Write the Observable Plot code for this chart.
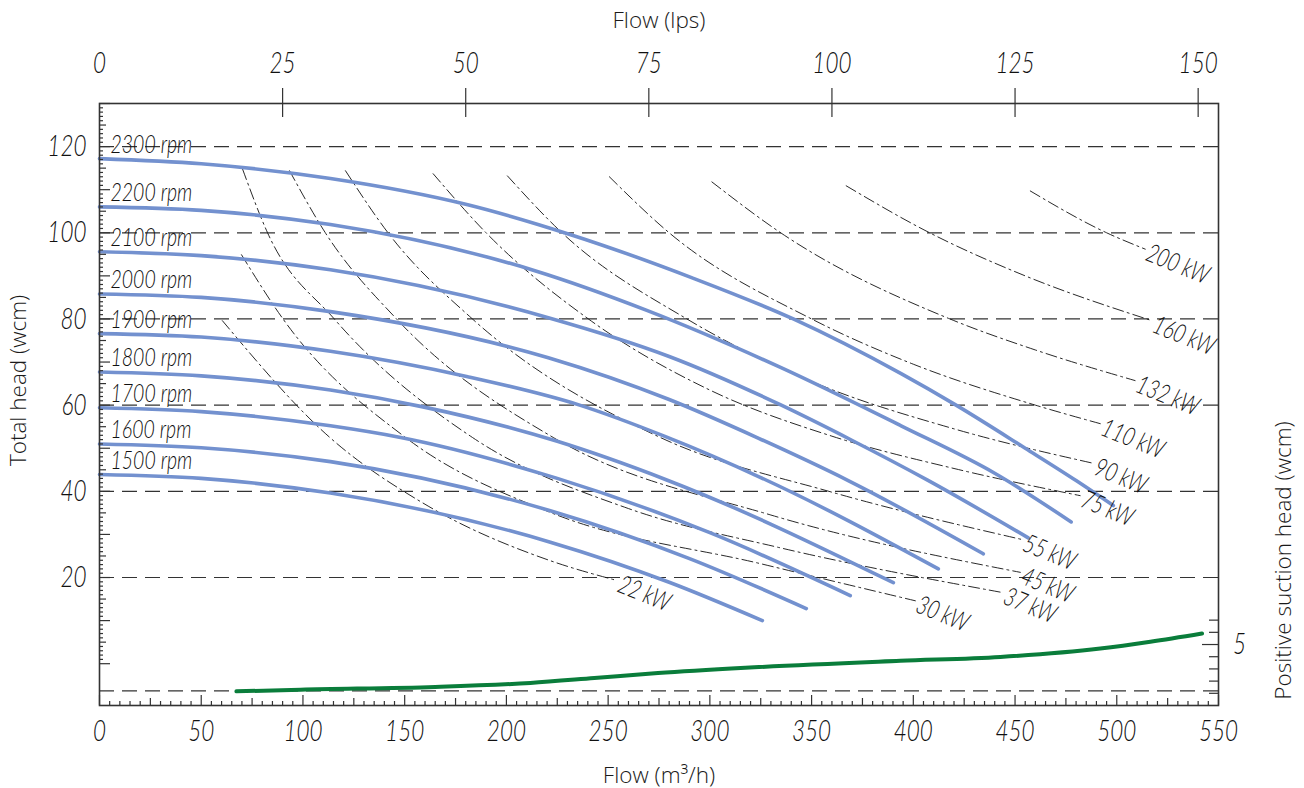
<!DOCTYPE html>
<html><head><meta charset="utf-8">
<script src="https://cdn.jsdelivr.net/npm/d3@7"></script>
<script src="https://cdn.jsdelivr.net/npm/@observablehq/plot@0.6"></script>
<style>
body{margin:0;background:#fff;}
#chart{width:1304px;height:788px;}
</style></head><body><div id="chart"></div>
<script>
// ---- Pump curves (flow m3/h, total head wcm) ----
const speeds = [2300, 2200, 2100, 2000, 1900, 1800, 1700, 1600, 1500];
const rpm2300 = [[0,117.2],[50,116.0],[113.5,112.6],[181,106.5],[232,99.5],[291,89.6],[341,80],[394,67.3],[421,60],[455,50],[480,42.5],[498.3,36.7]];
const rpm2200 = [[0,106.0],[50,105.2],[113.5,101.9],[214,91.2],[269,82.0],[335,68.7],[394,55.2],[440,44.2],[477.6,32.9]];
const rpm2100 = [[0,95.6],[50,94.7],[113.5,91.4],[220.6,80.3],[280,71.3],[334.6,60.1],[370,51.8],[407,42.6],[456.5,29.2]];
const rpm2000 = [[0,85.8],[50,85.0],[113.5,81.7],[220.6,71.0],[280,61.3],[324,52.3],[368,42.5],[434.4,25.5]];
const rpm1900 = [[0,76.6],[50,75.8],[113.5,72.5],[181,66.6],[236,60.0],[277.6,52.8],[325,43.2],[412.3,22.0]];
const rpm1800 = [[0,67.7],[50,66.8],[113.5,63.5],[159,59.6],[225,51.6],[278.5,42.7],[390.2,18.8]];
const rpm1700 = [[0,59.4],[50,58.5],[113.5,55.2],[148,52.5],[225,43.0],[300,30.4],[369,15.8]];
const rpm1600 = [[0,51.0],[50,50.1],[113.5,46.9],[221.6,35.5],[290,24.4],[347.4,12.8]];
const rpm1500 = [[0,43.9],[50,43.0],[113.5,39.6],[221.6,28.2],[280,18.9],[325.8,10.0]];
const pumpSeries = [rpm2300, rpm2200, rpm2100, rpm2000, rpm1900, rpm1800, rpm1700, rpm1600, rpm1500];

// ---- Iso-power curves (flow m3/h, head wcm) ----
const powers = [22, 30, 37, 45, 55, 75, 90, 110, 132, 160, 200];
const kw22  = [[60.4,79.6],[113.2,52.5],[160,37],[221.6,23.9],[254.4,19.3]];
const kw30  = [[69.8,94.9],[90.2,80],[150.4,52.5],[221.6,35.1],[325,23.2],[401,14.6]];
const kw37  = [[70.3,114.8],[82.6,100],[115.4,80],[183.3,52.5],[260,36],[333.6,27],[444,16.5]];
const kw45  = [[93.4,114.4],[111,100],[146,80],[223,52.5],[330,34.5],[452.6,21.2]];
const kw55  = [[120.9,114.4],[141.8,100],[183.3,80],[275.6,52.5],[360,39.8],[453.6,28.8]];
const kw75  = [[164,113.7],[190,100],[240.3,80],[300,63.5],[360,52.8],[420,45.3],[482,39]];
const kw90  = [[200.5,113.2],[227.3,100],[288.7,80],[350,65.5],[420,54.5],[488.5,46.5]];
const kw110 = [[250.6,113],[280,100],[350,80],[400,69.5],[460,60],[491.9,55.7]];
const kw132 = [[301,111.8],[334.8,100],[418,80],[460,72.8],[509,65.7]];
const kw160 = [[367,110.9],[408,100],[455,90],[517.3,79.6]];
const kw200 = [[457.5,109.7],[495,100],[514,96.2]];
const powerSeries = [kw22, kw30, kw37, kw45, kw55, kw75, kw90, kw110, kw132, kw160, kw200];

// ---- NPSH curve (flow m3/h, NPSH wcm) ----
const npshFlow  = [67.3, 98.8, 165, 211.8, 243.2, 274.5, 317.4, 393.6, 442.8, 491.9, 516.5, 541.9];
const npshValue = [1.16, 1.30, 1.52, 1.85, 2.25, 2.66, 3.09, 3.66, 3.98, 4.67, 5.23, 5.91];

// ---- Axes ----
const flowTicks = [0, 50, 100, 150, 200, 250, 300, 350, 400, 450, 500, 550];
const lpsTicks = [0, 25, 50, 75, 100, 125, 150];
const headTicks = [20, 40, 60, 80, 100, 120];
const npshTicks = [1, 2, 3, 4, 5, 6, 7];
const npshLabels = [5];
const npshGrid = [1.2];

// ---- Layout / scale helpers ----
const W = 1304, H = 788, mL = 99, mR = 86, mT = 103, mB = 83;
const frameW = W - mL - mR, frameH = H - mT - mB;
const yMin = -9.7, yMax = 130;
const npshToHead = 2.83;  // right axis: 1 wcm NPSH drawn as 2.83 head units, 0 at frame bottom
const toHead = n => yMin + n * npshToHead;
const lpsToM3h = 3.6;

const pumpRows = pumpSeries.flatMap((s, i) => s.map(([q, h]) => ({rpm: speeds[i], q, h})));
const powerRows = powerSeries.flatMap((s, i) => s.map(([q, h]) => ({kw: powers[i], q, h})));
const npshRows = npshFlow.map((q, i) => ({q, n: npshValue[i]}));
const rpmStarts = pumpSeries.map((s, i) => ({rpm: speeds[i], q: s[0][0], h: s[0][1]}));
const powerEnds = powerSeries.map((s, i) => ({kw: powers[i], q: s[s.length-1][0], h: s[s.length-1][1]}));

const range = (a, b, step) => d3.range(a, b + step / 2, step);
const headMajor = range(0, 130, 10);
const headMid = range(5, 125, 10);
const headMinor = range(0, 130, 1).filter(d => d % 5 !== 0);
const flowMajor = range(0, 550, 50);
const flowMid = range(25, 525, 50);
const flowMinor = range(0, 550, 5).filter(d => d % 25 !== 0);

const tickFont = "Lato, 'DejaVu Sans', sans-serif";
const tickStyle = {fontFamily: tickFont, fontStyle: "italic", fontWeight: 300, fill: "#111"};
const titleFont = "'Open Sans', 'Noto Sans', sans-serif";
const titleStyle = {fontFamily: titleFont, fontWeight: 300, fontSize: 22.5, fill: "#1a1a1a", lineAnchor: "middle", textAnchor: "middle"};

const chart = Plot.plot({
  width: W, height: H,
  marginLeft: mL, marginRight: mR, marginTop: mT, marginBottom: mB,
  x: {domain: [0, 550], axis: null},
  y: {domain: [yMin, yMax], axis: null},
  style: {background: "white", overflow: "visible"},
  marks: [
    // gridlines
    Plot.ruleY(headTicks, {y: d => d, stroke: "#333", strokeWidth: 1.2, strokeDasharray: "15,8"}),
    Plot.ruleY(npshGrid, {y: d => toHead(d), stroke: "#333", strokeWidth: 1.2, strokeDasharray: "15,8"}),
    // iso-power lines
    Plot.line(powerRows, {x: "q", y: "h", z: "kw", stroke: "#111", strokeWidth: 0.9, strokeDasharray: "11,4,2,4", curve: "monotone-x"}),
    // pump curves
    Plot.line(pumpRows, {x: "q", y: "h", z: "rpm", stroke: "#7391cf", strokeWidth: 3.6, curve: "monotone-x", strokeLinecap: "round"}),
    // NPSH curve
    Plot.line(npshRows, {x: "q", y: d => toHead(d.n), stroke: "#0a7d3b", strokeWidth: 4, curve: "monotone-x", strokeLinecap: "round"}),
    // labels on curves
    Plot.text(rpmStarts, {x: "q", y: "h", text: d => `${d.rpm} rpm`, dx: 11, dy: -14, textAnchor: "start", fontSize: 26, ...tickStyle}),
    Plot.text(powerEnds, {x: "q", y: "h", text: d => `${d.kw} kW`, dx: 2, dy: 3, rotate: 22, textAnchor: "start", fontSize: 26, ...tickStyle}),
    // frame
    Plot.frame({stroke: "#333", strokeWidth: 1.6}),
    // left ticks (inward)
    Plot.ruleY(headMajor, {y: d => d, insetRight: frameW - 11, stroke: "#333", strokeWidth: 1.2}),
    Plot.ruleY(headMid, {y: d => d, insetRight: frameW - 7, stroke: "#333", strokeWidth: 1.2}),
    Plot.ruleY(headMinor, {y: d => d, insetRight: frameW - 4, stroke: "#333", strokeWidth: 1.2}),
    // bottom ticks (inward)
    Plot.ruleX(flowMajor, {x: d => d, insetTop: frameH - 10, stroke: "#333", strokeWidth: 1.2}),
    Plot.ruleX(flowMid, {x: d => d, insetTop: frameH - 7, stroke: "#333", strokeWidth: 1.2}),
    Plot.ruleX(flowMinor, {x: d => d, insetTop: frameH - 4, stroke: "#333", strokeWidth: 1.2}),
    // top lps ticks (crossing frame)
    Plot.ruleX(lpsTicks.filter(d => d > 0), {x: d => d * lpsToM3h, insetTop: -15, insetBottom: frameH - 14, stroke: "#333", strokeWidth: 1.2}),
    // right NPSH ticks (inward)
    Plot.ruleY(npshTicks.filter(d => !npshLabels.includes(d)), {y: d => toHead(d), insetLeft: frameW - 9, stroke: "#333", strokeWidth: 1.2}),
    Plot.ruleY(npshLabels, {y: d => toHead(d), insetLeft: frameW - 16, stroke: "#333", strokeWidth: 1.2}),
    // tick labels
    Plot.text(flowTicks, {x: d => d, frameAnchor: "bottom", dy: 26, lineAnchor: "middle", textAnchor: "middle", text: d => String(d), fontSize: 30, ...tickStyle}),
    Plot.text(lpsTicks, {x: d => d * lpsToM3h, frameAnchor: "top", dy: -40, lineAnchor: "middle", textAnchor: "middle", text: d => String(d), fontSize: 30, ...tickStyle}),
    Plot.text(headTicks, {y: d => d, frameAnchor: "left", dx: -13, lineAnchor: "middle", textAnchor: "end", text: d => String(d), fontSize: 30, ...tickStyle}),
    Plot.text(npshLabels, {y: d => toHead(d), frameAnchor: "right", dx: 21, lineAnchor: "middle", textAnchor: "middle", text: d => String(d), fontSize: 30, ...tickStyle}),
    // axis titles
    Plot.text(["Flow (lps)"], {frameAnchor: "top", dy: -83, ...titleStyle}),
    Plot.text(["Flow (m³/h)"], {frameAnchor: "bottom", dy: 70, ...titleStyle}),
    Plot.text(["Total head (wcm)"], {frameAnchor: "left", dx: -81, dy: -24, rotate: -90, ...titleStyle}),
    Plot.text(["Positive suction head (wcm)"], {frameAnchor: "right", dx: 65, dy: 156, rotate: -90, ...titleStyle})
  ]
});
document.getElementById("chart").append(chart);

// condense the italic technical lettering horizontally
d3.select(chart).selectAll("text").each(function() {
  if (getComputedStyle(this).fontStyle !== "italic") return;
  const t = this.getAttribute("transform");
  if (t) this.setAttribute("transform", t + " scale(0.75,1)");
  else {
    const x = +this.getAttribute("x") || 0, y = +this.getAttribute("y") || 0;
    this.removeAttribute("x"); this.removeAttribute("y");
    this.setAttribute("transform", `translate(${x},${y}) scale(0.75,1)`);
  }
});
</script>
</body></html>
